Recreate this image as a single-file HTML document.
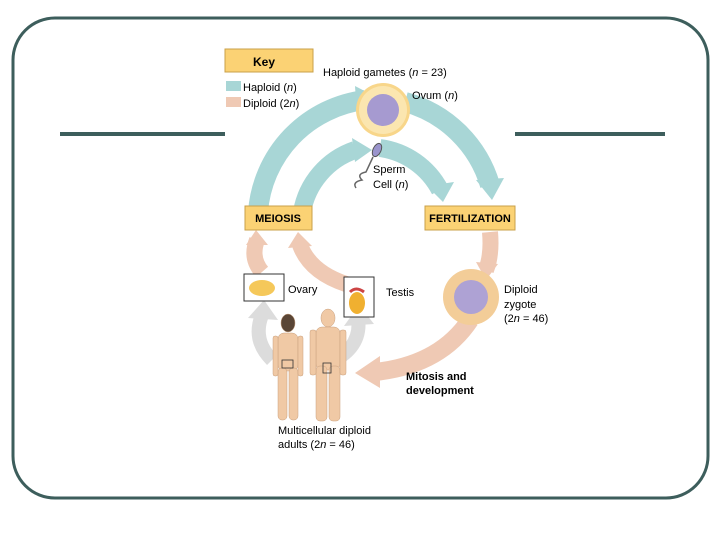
<!DOCTYPE html>
<html><head><meta charset="utf-8"><style>
body{margin:0;background:#fff;}
svg{display:block;font-family:"Liberation Sans",sans-serif;}
</style></head><body>
<svg width="720" height="540" viewBox="0 0 720 540">
<rect x="13" y="18" width="695" height="480" rx="42" fill="#fff" stroke="#3d5e5c" stroke-width="3"/>
<rect x="60" y="132" width="165" height="4" fill="#3d5e5c"/>
<rect x="515" y="132" width="150" height="4" fill="#3d5e5c"/>

<!-- haploid arcs -->
<path d="M258 212 A122 122 0 0 1 365 100" fill="none" stroke="#a8d6d6" stroke-width="20"/>
<polygon points="355,86 382,100 357,116" fill="#a8d6d6"/>
<path d="M405 102 A122 122 0 0 1 490 185" fill="none" stroke="#a8d6d6" stroke-width="20"/>
<polygon points="476,180 492,200 504,178" fill="#a8d6d6"/>
<path d="M302 212 A80 80 0 0 1 355 150" fill="none" stroke="#a8d6d6" stroke-width="18"/>
<polygon points="352,138 372,150 355,162" fill="#a8d6d6"/>
<path d="M380 148 A80 80 0 0 1 440 190" fill="none" stroke="#a8d6d6" stroke-width="18"/>
<polygon points="427,186 443,202 454,182" fill="#a8d6d6"/>

<!-- diploid arcs -->
<path d="M490 232 Q492 255 486 270" fill="none" stroke="#efc9b4" stroke-width="16"/>
<polygon points="476,262 486,280 498,264" fill="#efc9b4"/>
<path d="M470 320 Q440 365 375 372" fill="none" stroke="#efc9b4" stroke-width="18"/>
<polygon points="380,356 355,373 380,388" fill="#efc9b4"/>
<path d="M262 272 Q250 258 257 240" fill="none" stroke="#efc9b4" stroke-width="16"/>
<polygon points="246,245 256,230 268,245" fill="#efc9b4"/>
<path d="M346 284 Q310 272 300 245" fill="none" stroke="#efc9b4" stroke-width="16"/>
<polygon points="288,248 298,232 312,246" fill="#efc9b4"/>
<!-- grey arrows -->
<path d="M272 360 Q252 340 262 315" fill="none" stroke="#dcdcdc" stroke-width="14"/>
<polygon points="248,318 264,300 278,320" fill="#dcdcdc"/>
<path d="M335 360 Q362 345 358 318" fill="none" stroke="#dcdcdc" stroke-width="14"/>
<polygon points="344,326 359,305 374,324" fill="#dcdcdc"/>

<!-- ovum -->
<circle cx="383" cy="110" r="27" fill="#f8d68a"/>
<circle cx="383" cy="110" r="24" fill="#fbe6b0"/>
<circle cx="383" cy="110" r="16" fill="#a69ad0"/>
<!-- sperm -->
<ellipse cx="377" cy="150" rx="4" ry="7" fill="#9a94cc" stroke="#555" transform="rotate(25 377 150)"/>
<path d="M373 157 L366 172 Q356 174 362 180 Q352 182 356 188" fill="none" stroke="#666" stroke-width="1.5"/>
<!-- zygote -->
<circle cx="471" cy="297" r="28" fill="#f3cd98"/>
<circle cx="471" cy="297" r="17" fill="#aea2d4"/>

<!-- ovary/testis boxes -->
<rect x="244" y="274" width="40" height="27" fill="#fff" stroke="#333"/>
<ellipse cx="262" cy="288" rx="13" ry="8" fill="#f5c85a"/>
<rect x="344" y="277" width="30" height="40" fill="#fff" stroke="#333"/>
<ellipse cx="357" cy="303" rx="8" ry="11" fill="#f0b030"/>
<path d="M350 292 Q356 286 364 292" stroke="#c44" stroke-width="3" fill="none"/>

<!-- people -->
<g fill="#f0c9a5" stroke="#c9a07e" stroke-width="0.5">
<ellipse cx="288" cy="323" rx="7" ry="9" fill="#5a4636"/>
<rect x="278" y="333" width="20" height="38" rx="6"/>
<rect x="278" y="368" width="9" height="52" rx="4"/>
<rect x="289" y="368" width="9" height="52" rx="4"/>
<rect x="273" y="336" width="5" height="40" rx="2"/>
<rect x="298" y="336" width="5" height="40" rx="2"/>
<ellipse cx="328" cy="318" rx="7" ry="9"/>
<rect x="316" y="327" width="24" height="43" rx="6"/>
<rect x="316" y="366" width="11" height="55" rx="4"/>
<rect x="329" y="366" width="11" height="55" rx="4"/>
<rect x="310" y="330" width="6" height="45" rx="2"/>
<rect x="340" y="330" width="6" height="45" rx="2"/>
</g>
<rect x="282" y="360" width="11" height="8" fill="none" stroke="#333" stroke-width="0.8"/>
<rect x="323" y="363" width="8" height="10" fill="none" stroke="#333" stroke-width="0.8"/>

<!-- key -->
<rect x="225" y="49" width="88" height="23" fill="#fbd274" stroke="#c9a04a"/>
<text x="264" y="66" font-size="12" font-weight="bold" text-anchor="middle">Key</text>
<rect x="226" y="81" width="15" height="10" fill="#a8d6d6"/>
<rect x="226" y="97" width="15" height="10" fill="#efc9b4"/>
<text x="243" y="91" font-size="11">Haploid (<tspan font-style="italic">n</tspan>)</text>
<text x="243" y="107" font-size="11">Diploid (2<tspan font-style="italic">n</tspan>)</text>
<text x="323" y="76" font-size="11">Haploid gametes (<tspan font-style="italic">n</tspan> = 23)</text>
<text x="412" y="99" font-size="11">Ovum (<tspan font-style="italic">n</tspan>)</text>
<text x="373" y="173" font-size="11">Sperm</text>
<text x="373" y="188" font-size="11">Cell (<tspan font-style="italic">n</tspan>)</text>

<rect x="245" y="206" width="67" height="24" fill="#fbd274" stroke="#c9a04a"/>
<text x="278" y="222" font-size="11" font-weight="bold" text-anchor="middle">MEIOSIS</text>
<rect x="425" y="206" width="90" height="24" fill="#fbd274" stroke="#c9a04a"/>
<text x="470" y="222" font-size="11" font-weight="bold" text-anchor="middle">FERTILIZATION</text>

<text x="288" y="293" font-size="11">Ovary</text>
<text x="386" y="296" font-size="11">Testis</text>
<text x="504" y="293" font-size="11">Diploid</text>
<text x="504" y="308" font-size="11">zygote</text>
<text x="504" y="322" font-size="11">(2<tspan font-style="italic">n</tspan> = 46)</text>
<text x="406" y="380" font-size="11" font-weight="bold">Mitosis and</text>
<text x="406" y="394" font-size="11" font-weight="bold">development</text>
<text x="278" y="434" font-size="11">Multicellular diploid</text>
<text x="278" y="448" font-size="11">adults (2<tspan font-style="italic">n</tspan> = 46)</text>
</svg>
</body></html>
